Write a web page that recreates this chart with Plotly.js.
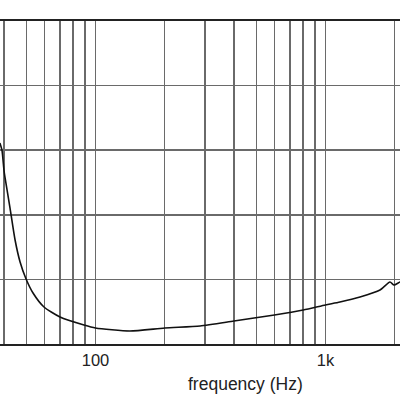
<!DOCTYPE html>
<html>
<head>
<meta charset="utf-8">
<script src="https://cdn.plot.ly/plotly-3.0.1.min.js"></script>
<style>html,body{margin:0;padding:0;background:#fff;}#chart{width:400px;height:400px;}</style>
</head>
<body>
<div id="chart"></div>
<script>
const freq = [38.4, 39.2, 40.0, 40.4, 42.5, 44.7, 47.0, 49.9, 53.5, 59.7, 70.1, 89.1, 100, 141, 200, 285, 400, 600, 800, 1000, 1156, 1413, 1726, 1907, 1986, 2109, 2200];
const level = [31.1, 30.0, 26.9, 25.85, 21.05, 16.1, 12.7, 10.06, 7.89, 5.73, 4.18, 2.94, 2.48, 2.01, 2.48, 2.79, 3.56, 4.49, 5.26, 6.04, 6.5, 7.28, 8.36, 9.6, 9.13, 9.6, 9.7];
const gridFreqs = [40, 50, 60, 70, 80, 90, 100, 200, 300, 400, 500, 600, 700, 800, 900, 1000, 2000];
const gridLabels = ['', '', '', '', '', '', '100', '', '', '', '', '', '', '', '', '1k', ''];
const xTitle = 'frequency (Hz)';

const trace = {
  x: freq, y: level, type: 'scatter', mode: 'lines',
  line: {color: '#111', width: 1.6, shape: 'spline', smoothing: 0.6},
  hoverinfo: 'skip'
};
const layout = {
  width: 400, height: 400,
  margin: {l: 0, r: 0, t: 21, b: 56},
  paper_bgcolor: '#fff', plot_bgcolor: '#fff',
  showlegend: false,
  font: {family: 'Liberation Sans, Arial, sans-serif', color: '#222'},
  xaxis: {
    type: 'log', range: [1.5848, 3.324],
    tickmode: 'array', tickvals: gridFreqs, ticktext: gridLabels,
    showgrid: true, gridcolor: '#6a6a6a', gridwidth: 1.5,
    showline: true, mirror: true, linecolor: '#222', linewidth: 1.8,
    ticks: '', tickfont: {size: 16.5, color: '#222'},
    zeroline: false
  },
  yaxis: {
    range: [0, 50], dtick: 10, tick0: 0,
    showgrid: true, gridcolor: '#6a6a6a', gridwidth: 1.5,
    showline: false, showticklabels: false, ticks: '', zeroline: false
  },
  annotations: [{
    text: xTitle, xref: 'paper', yref: 'paper', x: 0.614, y: -0.124,
    xanchor: 'center', yanchor: 'middle', showarrow: false,
    font: {size: 17.5, color: '#222'}
  }]
};
Plotly.newPlot('chart', [trace], layout, {staticPlot: true, displayModeBar: false});
</script>
</body>
</html>
